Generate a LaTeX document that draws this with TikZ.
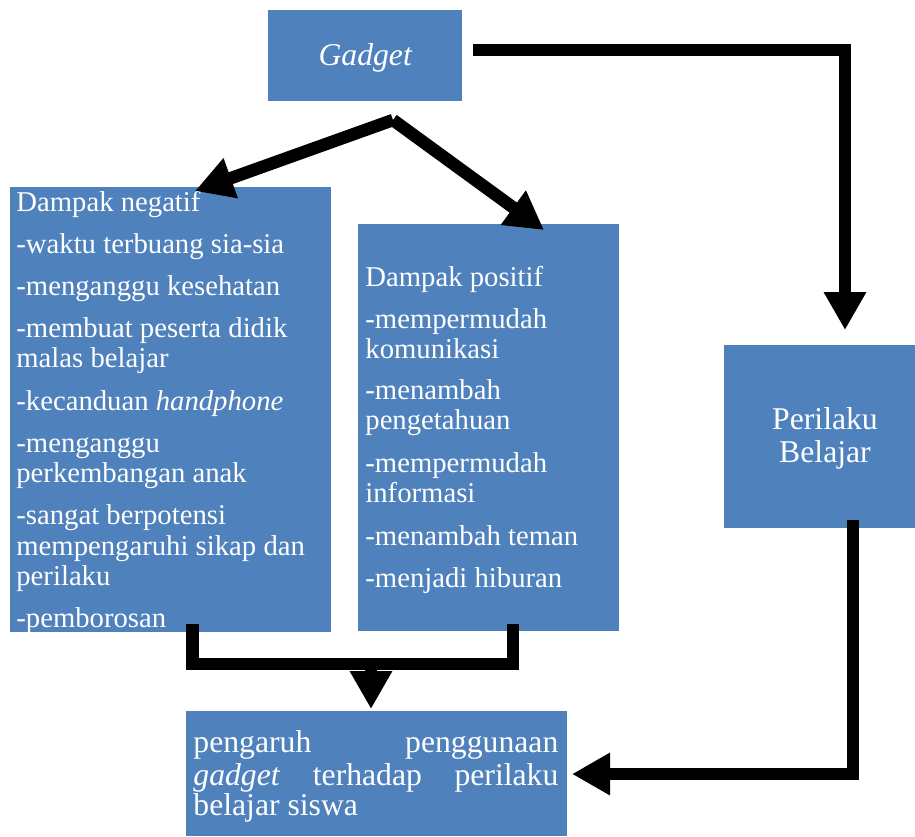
\documentclass[tikz,border=0pt]{standalone}
\usepackage{fontspec}
\setmainfont{Liberation Serif}
\usetikzlibrary{arrows.meta}
\definecolor{boxblue}{HTML}{4F81BD}
\tikzset{
  box/.style={fill=boxblue, draw=none, inner sep=0pt, anchor=north west},
  txt/.style={text=white, inner sep=0pt, font=\fontsize{14.35pt}{15pt}\selectfont},
  bigtxt/.style={text=white, inner sep=0pt, font=\fontsize{15.85pt}{16pt}\selectfont},
  conn/.style={line width=6.25pt, line join=miter, draw=black},
  headtip/.style={-{Triangle[length=19pt,width=20pt]}},
}
\begin{document}
\begin{tikzpicture}[x=0.5pt,y=-0.5pt]
\useasboundingbox (0,0) rectangle (915,836);
% boxes
\node[box, minimum width=97pt, minimum height=45.5pt] (gadget) at (268,10) {};
\node[box, minimum width=160.5pt, minimum height=222.5pt] (neg) at (10,187) {};
\node[box, minimum width=130.5pt, minimum height=203.5pt] (pos) at (358,224) {};
\node[box, minimum width=95.5pt, minimum height=91.5pt] (per) at (724,345) {};
\node[box, minimum width=190.5pt, minimum height=62.5pt] (bot) at (186,711) {};
% gadget text
\node[bigtxt, anchor=base] (tg) at (365.5,65) {\textit{Gadget}};
% negative list
\node[txt, anchor=base west] (n1) at (16,211) {Dampak negatif};
\node[txt, anchor=base west] (n2) at (16,253) {-waktu terbuang sia-sia};
\node[txt, anchor=base west] (n3) at (16,295) {-menganggu kesehatan};
\node[txt, anchor=base west] (n4) at (16,337) {-membuat peserta didik};
\node[txt, anchor=base west] (n5) at (16,367) {malas belajar};
\node[txt, anchor=base west] (n6) at (16,410) {-kecanduan \textit{handphone}};
\node[txt, anchor=base west] (n7) at (16,452) {-menganggu};
\node[txt, anchor=base west] (n8) at (16,482) {perkembangan anak};
\node[txt, anchor=base west] (n9) at (16,524) {-sangat berpotensi};
\node[txt, anchor=base west] (n10) at (16,555) {mempengaruhi sikap dan};
\node[txt, anchor=base west] (n11) at (16,585) {perilaku};
\node[txt, anchor=base west] (n12) at (16,627) {-pemborosan};
% positive list
\node[txt, anchor=base west] (p1) at (365,286) {Dampak positif};
\node[txt, anchor=base west] (p2) at (365,328) {-mempermudah};
\node[txt, anchor=base west] (p3) at (365,358) {komunikasi};
\node[txt, anchor=base west] (p4) at (365,399) {-menambah};
\node[txt, anchor=base west] (p5) at (365,429) {pengetahuan};
\node[txt, anchor=base west] (p6) at (365,472) {-mempermudah};
\node[txt, anchor=base west] (p7) at (365,502) {informasi};
\node[txt, anchor=base west] (p8) at (365,545) {-menambah teman};
\node[txt, anchor=base west] (p9) at (365,587) {-menjadi hiburan};
% perilaku belajar
\node[bigtxt, anchor=base] (r1) at (825,429) {Perilaku};
\node[bigtxt, anchor=base] (r2) at (825,462) {Belajar};
% bottom box
\node[bigtxt, anchor=base west] (b1) at (193,752) {\makebox[182.5pt][l]{pengaruh\hfill penggunaan}};
\node[bigtxt, anchor=base west] (b2) at (193,785) {\makebox[182.5pt][l]{\textit{gadget}\hfill terhadap\hfill perilaku}};
\node[bigtxt, anchor=base west] (b3) at (193,815) {belajar siswa};
% connector coordinates
\coordinate (split) at (393,120);
\coordinate (negtip) at (195,191);
\coordinate (postip) at (544,230);
\coordinate (gout) at (473,50);
\coordinate (gcorner) at (845,50);
\coordinate (pertip) at (845,330);
\coordinate (perout) at (853,520);
\coordinate (pcorner) at (853,774);
\coordinate (bottip) at (572,774);
\coordinate (bl) at (192.5,624);
\coordinate (blc) at (192.5,664);
\coordinate (br) at (513,624);
\coordinate (brc) at (513,664);
\coordinate (bmid) at (371,664);
\coordinate (bmidtip) at (371,709);
% connectors
\draw[conn, headtip] (split) -- (negtip);
\draw[conn, headtip] (split) -- (postip);
\draw[conn, headtip] (gout) -- (gcorner) -- (pertip);
\draw[conn, headtip] (perout) -- (pcorner) -- (bottip);
\draw[conn] (bl) -- (blc) -- (brc) -- (br);
\draw[conn, headtip] (bmid) -- (bmidtip);
\end{tikzpicture}
\end{document}
